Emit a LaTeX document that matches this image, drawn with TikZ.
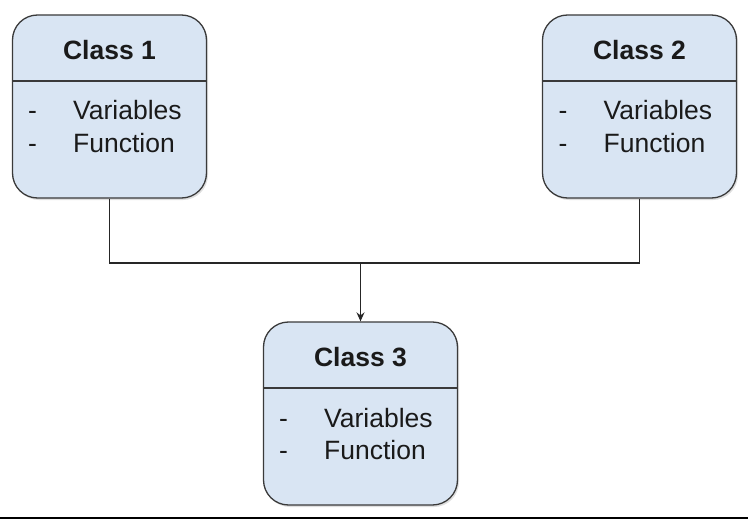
\documentclass[tikz,border=0pt]{standalone}
\usepackage{fontspec}
\setmainfont{Liberation Sans}
\usetikzlibrary{shadows,arrows.meta}
\definecolor{boxfill}{HTML}{D9E5F3}
\definecolor{boxline}{HTML}{3A3A3A}
\definecolor{txt}{HTML}{1A1A1A}
\tikzset{
  classbox/.style={draw=boxline, fill=boxfill, line width=1.3pt, rounded corners=25pt,
    minimum width=194pt, minimum height=183pt, inner sep=0pt,
    drop shadow={shadow xshift=1.5pt, shadow yshift=-2pt, opacity=0.25}},
  sepline/.style={draw=boxline, line width=1.3pt},
  title/.style={font=\fontsize{26.5}{30}\selectfont\bfseries, text=txt, inner sep=0pt},
  item/.style={font=\fontsize{26.5}{30}\selectfont, text=txt, inner sep=0pt, anchor=base west},
  conn/.style={draw=black!85, line width=1.3pt},
}
\begin{document}
\begin{tikzpicture}[x=1pt,y=-1pt]
\useasboundingbox (0,0) rectangle (748,519);
% boxes
\node[classbox] (c1) at (109.5,106.5) {};
\node[classbox] (c2) at (639.5,106.5) {};
\node[classbox] (c3) at (360.5,413.5) {};
% header separators
\draw[sepline] (c1.west |- 0,81) -- (c1.east |- 0,81);
\draw[sepline] (c2.west |- 0,81) -- (c2.east |- 0,81);
\draw[sepline] (c3.west |- 0,388) -- (c3.east |- 0,388);
% titles
\node[title] (t1) at (109.5,50) {Class 1};
\node[title] (t2) at (639.5,50) {Class 2};
\node[title] (t3) at (360.5,357) {Class 3};
% items class 1
\node[item] (d1a) at (28,120) {-};
\node[item] (v1) at (73,120) {Variables};
\node[item] (d1b) at (28,153) {-};
\node[item] (f1) at (73,153) {Function};
% items class 2
\node[item] (d2a) at (558.5,120) {-};
\node[item] (v2) at (603.5,120) {Variables};
\node[item] (d2b) at (558.5,153) {-};
\node[item] (f2) at (603.5,153) {Function};
% items class 3
\node[item] (d3a) at (279,427) {-};
\node[item] (v3) at (324,427) {Variables};
\node[item] (d3b) at (279,459) {-};
\node[item] (f3) at (324,459) {Function};
% connectors
\coordinate (j) at (360.5,263);
\draw[conn] (c1.south) |- (j);
\draw[conn] (c2.south) |- (j);
\draw[conn, -{Stealth[length=9pt,width=8pt,inset=3pt]}] (j) -- (c3.north);
% bottom rule
\fill[black] (0,516.5) rectangle (748,519);
\end{tikzpicture}
\end{document}
